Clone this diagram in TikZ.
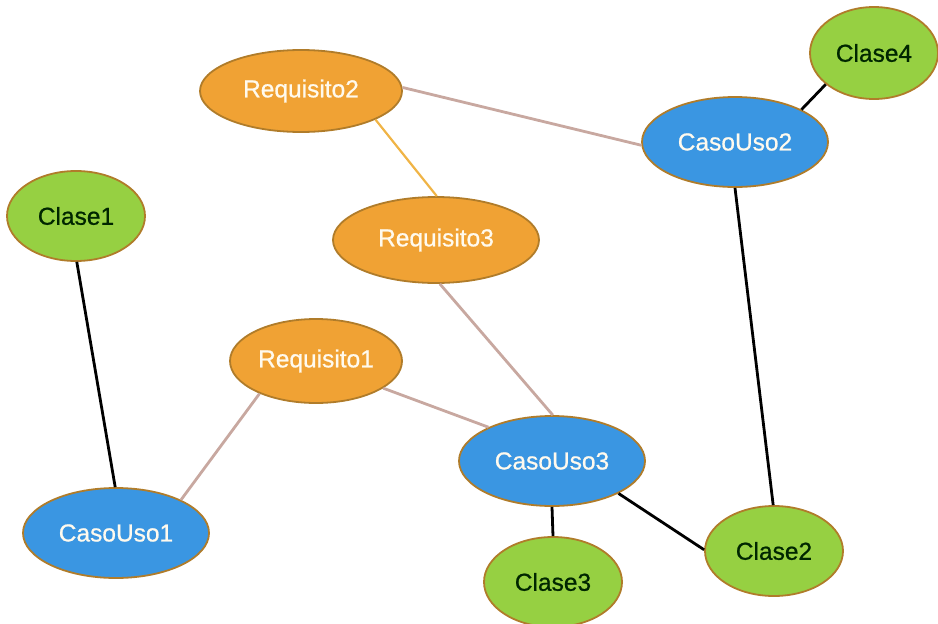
\documentclass[tikz,border=0pt]{standalone}
\usepackage{fontspec}
\setmainfont{Liberation Sans}
\newfontfamily\etiqueta[FakeBold=0.8]{Liberation Sans}
\usetikzlibrary{shapes.geometric}

\definecolor{naranja}{RGB}{240,162,52}
\definecolor{azul}{RGB}{58,150,226}
\definecolor{verde}{RGB}{150,208,66}
\definecolor{borde}{RGB}{176,124,42}
\definecolor{rosado}{RGB}{200,168,160}
\definecolor{ambar}{RGB}{240,180,70}
\definecolor{blanco}{RGB}{255,250,238}

\begin{document}
\begin{tikzpicture}[x=1pt,y=-1pt,
	nodo/.style={ellipse, draw=borde, line width=1.8pt, inner sep=0pt,
		font=\etiqueta\fontsize{24.5}{28}\selectfont},
	req/.style={nodo, fill=naranja, text=blanco},
	uso/.style={nodo, fill=azul, text=blanco, minimum width=186, minimum height=90},
	clase/.style={nodo, fill=verde, text=black!85!green, minimum width=138, minimum height=90},
	traza/.style={draw=rosado, line width=2.8pt},
	refina/.style={draw=ambar, line width=2.2pt},
	dep/.style={draw=black, line width=2.8pt}]

% frame %{{{2

	\useasboundingbox (0,0) rectangle (938,624);

% requisitos %{{{2

	\node[req, minimum width=202, minimum height=82] (R2) at (301,91) {Requisito2};
	\node[req, minimum width=206, minimum height=86] (R3) at (436,240) {Requisito3};
	\node[req, minimum width=172, minimum height=84] (R1) at (316,361) {Requisito1};

% casos de uso %{{{2

	\node[uso] (U2) at (735,142) {CasoUso2};
	\node[uso] (U3) at (552,461) {CasoUso3};
	\node[uso] (U1) at (116,533) {CasoUso1};

% clases %{{{2

	\node[clase, minimum width=128, minimum height=92] (C4) at (874,53) {Clase4};
	\node[clase] (C1) at (76,216) {Clase1};
	\node[clase] (C2) at (774,551) {Clase2};
	\node[clase] (C3) at (553,582) {Clase3};

% enlaces %{{{2

	\draw[traza] (R2.2) -- (U2.182);
	\draw[refina] (R2.-21) -- (R3.89);
	\draw[traza] (R3.-85) -- (U3.89);
	\draw[traza] (R1.-22) -- (U3.152);
	\draw[traza] (R1.210) -- (U1.27);

	\draw[dep] (U2.26) -- (C4.213);
	\draw[dep] (U2.-90) -- (C2.91);
	\draw[dep] (C1.-89) -- (U1.91);
	\draw[dep] (U3.south) -- (C3.north);
	\draw[dep] (U3.-26) -- (C2.179);

\end{tikzpicture}
\end{document}
